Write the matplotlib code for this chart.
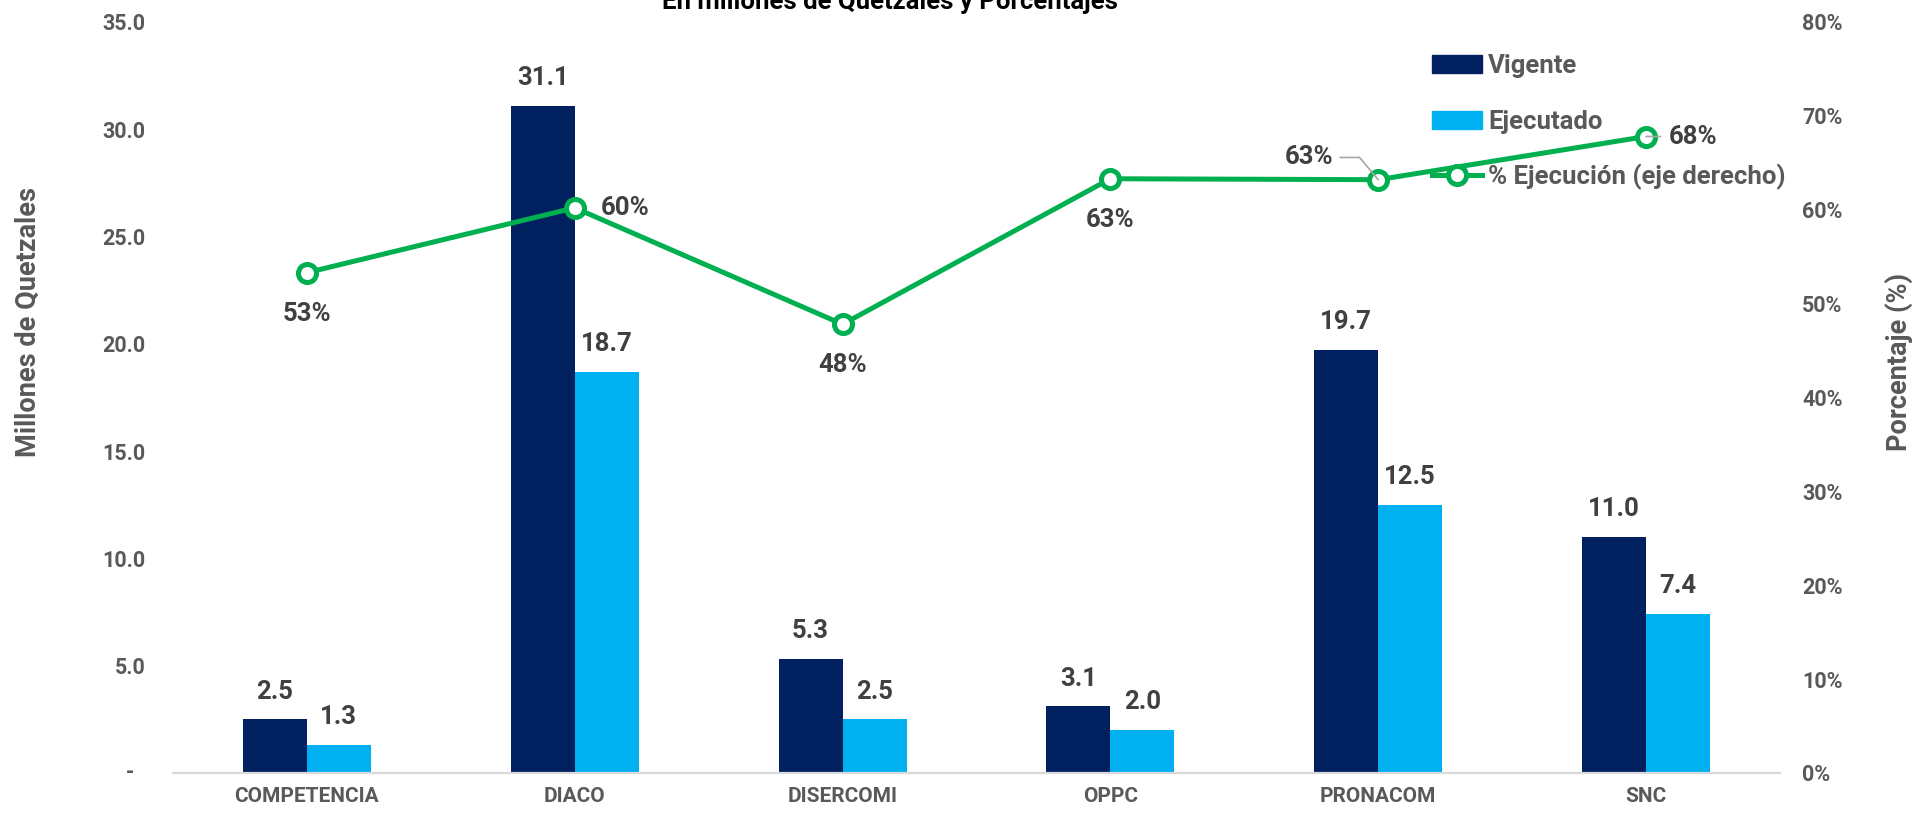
import numpy as np
import matplotlib
matplotlib.use("Agg")
import matplotlib.pyplot as plt
from matplotlib.patches import Patch
from matplotlib.lines import Line2D
from matplotlib.ticker import FixedLocator, FuncFormatter

plt.rcParams["font.family"] = ["Roboto", "DejaVu Sans"]
plt.rcParams["font.weight"] = "bold"

# datos
categorias = ["COMPETENCIA", "DIACO", "DISERCOMI", "OPPC", "PRONACOM", "SNC"]
vigente = [2.5, 31.1, 5.3, 3.1, 19.7, 11.0]
ejecutado = [1.3, 18.7, 2.5, 2.0, 12.5, 7.4]
pct_ejecucion = [0.533, 0.602, 0.478, 0.633, 0.632, 0.678]

titulo = "En millones de Quetzales y Porcentajes"
c_vig = "#002060"
c_eje = "#00B0F0"
c_pct = "#00B050"
c_txt = "#595959"
c_lbl = "#404040"

fig = plt.figure(figsize=(19.16, 8.14), dpi=100)
ax = fig.add_axes([0.0903, 0.0504, 0.8387, 0.9226])
ax2 = ax.twinx()

x = np.arange(len(categorias))
w = 0.239

b1 = ax.bar(x - w / 2, vigente, w, color=c_vig, zorder=2)
b2 = ax.bar(x + w / 2, ejecutado, w, color=c_eje, zorder=2)

for bars, vals in ((b1, vigente), (b2, ejecutado)):
    for r, v in zip(bars, vals):
        ax.annotate(f"{v:.1f}", (r.get_x() + r.get_width() / 2, v),
                    xytext=(0, 20), textcoords="offset points",
                    ha="center", va="center", fontsize=18.5, color=c_lbl,
                    fontweight="bold")

ax.set_xlim(-0.5, len(categorias) - 0.5)
ax.set_ylim(0, 35)
ax.yaxis.set_major_locator(FixedLocator(np.arange(0, 35.1, 5)))
ax.yaxis.set_major_formatter(FuncFormatter(lambda v, p: "" if v == 0 else f"{v:.1f}"))
ax.annotate("-", (0, 0), xycoords=("axes fraction", "data"), xytext=(-31, 0),
            textcoords="offset points", ha="center", va="center",
            fontsize=15.5, color=c_txt, fontweight="bold")
ax.set_xticks(x)
ax.set_xticklabels(categorias, fontweight="bold")
ax.tick_params(axis="x", length=0, pad=10, labelsize=15, labelcolor=c_txt)
ax.tick_params(axis="y", length=0, pad=20, labelsize=15.5, labelcolor=c_txt)

for a in (ax, ax2):
    for s in ("top", "left", "right"):
        a.spines[s].set_visible(False)
ax.spines["bottom"].set_color("#D9D9D9")
ax.spines["bottom"].set_linewidth(1.6)
ax2.spines["bottom"].set_visible(False)

# linea de porcentaje
ax2.plot(x, pct_ejecucion, color=c_pct, lw=3.6, marker="o", ms=13,
         mfc="white", mec=c_pct, mew=3.6, zorder=3)
ax2.set_ylim(0, 0.8)
ax2.yaxis.set_major_locator(FixedLocator(np.arange(0, 0.81, 0.1)))
ax2.yaxis.set_major_formatter(FuncFormatter(lambda v, p: f"{v * 100:.0f}%"))
ax2.tick_params(axis="y", length=0, pad=16, labelsize=15.5, labelcolor=c_txt)
for t in ax.get_yticklabels() + ax2.get_yticklabels():
    t.set_fontweight("bold")

offsets = [(0, -29.5), (36, 0), (0, -29), (0, -30), (-50, 16), (34, 0)]
for i, (p, off) in enumerate(zip(pct_ejecucion, offsets)):
    kw = {}
    if i == 4:
        kw["arrowprops"] = dict(arrowstyle="-", color="#A6A6A6", lw=1.2,
                                shrinkA=3, shrinkB=0, relpos=(1, 0.5),
                                connectionstyle="angle,angleA=0,angleB=130,rad=0")
    if i == 5:
        kw["arrowprops"] = dict(arrowstyle="-", color="#A6A6A6", lw=1.2,
                                shrinkA=4, shrinkB=0, relpos=(0, 0.5))
    ax2.annotate(f"{p * 100:.0f}%", (x[i], p), xytext=off,
                 textcoords="offset points", ha="center", va="center",
                 fontsize=18.5, color=c_lbl, fontweight="bold", zorder=5, **kw)

# ejes
fig.text(28 / 1916, 1 - 322 / 814, "Millones de Quetzales", rotation=90,
         ha="center", va="center", fontsize=19.5, color=c_txt, fontweight="bold")
fig.text(1899 / 1916, 1 - 362 / 814, "Porcentaje (%)", rotation=90,
         ha="center", va="center", fontsize=19.5, color=c_txt, fontweight="bold")
fig.text(890 / 1916, 1 - 9 / 814, titulo, ha="center", va="baseline",
         fontsize=18.5, color="black", fontweight="bold")

# leyenda, una fila por entrada
handles = [Patch(color=c_vig), Patch(color=c_eje),
           Line2D([], [], color=c_pct, lw=3.6, marker="o", ms=13,
                  mfc="white", mec=c_pct, mew=3.6)]
labels = ["Vigente", "Ejecutado", "% Ejecución (eje derecho)"]
filas_y = [66, 122, 177]
for h, lab, yy in zip(handles, labels, filas_y):
    leg = fig.legend([h], [lab], loc="center left",
                     bbox_to_anchor=(1432 / 1916, 1 - yy / 814),
                     frameon=False, borderpad=0, borderaxespad=0,
                     handlelength=1.95, handletextpad=0.23,
                     prop={"size": 18.5, "weight": "bold"})
    for t in leg.get_texts():
        t.set_color(c_txt)

fig.savefig("out.png", dpi=100)
